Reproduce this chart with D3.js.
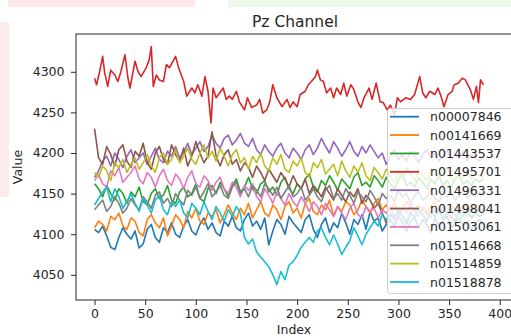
<!DOCTYPE html>
<html>
<head>
<meta charset="utf-8">
<script src="https://cdn.jsdelivr.net/npm/d3@7"></script>
<style>
  body { margin: 0; background: #fff; }
  svg { display: block; font-family: "DejaVu Sans", sans-serif; }
</style>
</head>
<body>
<svg id="chart" width="511" height="336"></svg>
<script>
// sample index (every 4th row of the recording)
const sampleIndex = d3.range(0, 385, 4);
// the red channel was read point by point at its peaks and dips
const redIndex = [0,2,5,8,10,13,16,20,23,26,30,33,35,40,43,46,51,54,56,58,
  61,64,68,71,74,80,83,88,91,96,99,102,106,109,112,115,117,120,127,130,
  133,136,140,143,148,151,155,160,163,166,170,173,176,180,185,190,193,196,200,203,
  208,211,214,218,220,223,226,229,233,236,239,243,246,249,253,256,260,263,266,271,
  274,278,282,285,289,292,296,299,302,307,312,316,321,324,327,331,336,339,342,345,
  349,353,355,359,363,366,371,374,377,379,381,384];

const seriesNames = ['n00007846', 'n00141669', 'n01443537', 'n01495701', 'n01496331',
  'n01498041', 'n01503061', 'n01514668', 'n01514859', 'n01518878'];

const n00007846 = [4106,4102,4110,4098,4084,4081,4096,4108,4100,4094,
  4104,4083,4088,4106,4112,4096,4090,4108,4102,4114,
  4100,4096,4110,4118,4104,4099,4112,4120,4106,4114,
  4102,4098,4116,4110,4122,4108,4104,4118,4126,4110,
  4116,4106,4120,4087,4104,4118,4112,4100,4122,4114,
  4108,4102,4118,4124,4106,4096,4112,4120,4102,4114,
  4108,4126,4114,4100,4118,4112,4124,4106,4128,4116,
  4120,4104,4112,4118,4110,4122,4114,4104,4116,4120,
  4108,4118,4112,4102,4120,4110,4116,4122,4108,4114,
  4120,4110,4116,4106,4114,4118,4112];
const n00141669 = [4108,4116,4112,4104,4122,4118,4126,4110,4106,4120,
  4116,4102,4098,4118,4124,4114,4108,4120,4098,4110,
  4124,4118,4108,4128,4120,4132,4116,4112,4126,4122,
  4130,4114,4124,4136,4126,4118,4132,4124,4138,4120,
  4130,4140,4126,4122,4136,4130,4118,4134,4140,4126,
  4132,4120,4138,4144,4128,4124,4136,4130,4142,4122,
  4134,4128,4140,4136,4124,4130,4142,4134,4126,4138,
  4144,4130,4136,4128,4138,4124,4132,4140,4134,4128,
  4136,4130,4124,4134,4140,4128,4132,4126,4136,4130,
  4134,4128,4138,4130,4126,4134,4130];
const n01443537 = [4162,4156,4146,4160,4150,4142,4156,4150,4138,4152,
  4146,4158,4140,4136,4150,4156,4144,4148,4160,4142,
  4138,4152,4158,4146,4150,4162,4144,4140,4156,4160,
  4150,4164,4156,4146,4160,4168,4152,4158,4170,4156,
  4150,4162,4166,4152,4158,4148,4164,4170,4156,4150,
  4162,4156,4168,4174,4158,4152,4166,4160,4172,4164,
  4154,4168,4162,4156,4170,4176,4160,4164,4158,4172,
  4166,4158,4170,4162,4156,4168,4174,4160,4164,4158,
  4170,4164,4156,4168,4162,4172,4160,4166,4158,4168,
  4172,4162,4166,4160,4168,4164,4168];
const n01495701 = [4292,4284,4300,4319,4299,4282,4302,4296,4288,4300,
  4321,4292,4280,4313,4300,4294,4305,4315,4331,4282,
  4296,4290,4288,4309,4305,4319,4305,4288,4270,4280,
  4274,4284,4270,4294,4276,4237,4280,4268,4280,4266,
  4270,4266,4276,4263,4253,4268,4256,4259,4266,4249,
  4253,4263,4284,4268,4257,4266,4256,4263,4257,4272,
  4276,4284,4288,4294,4302,4290,4288,4274,4280,4268,
  4280,4272,4286,4270,4284,4278,4263,4256,4268,4280,
  4266,4286,4263,4262,4253,4259,4247,4268,4263,4268,
  4266,4272,4294,4274,4268,4276,4272,4280,4270,4257,
  4272,4276,4284,4286,4292,4290,4278,4266,4282,4262,
  4290,4284];
const n01496331 = [4170,4178,4190,4196,4184,4200,4192,4182,4196,4204,
  4188,4194,4200,4186,4196,4206,4192,4188,4202,4196,
  4208,4194,4200,4212,4198,4206,4214,4202,4208,4222,
  4212,4206,4218,4222,4210,4216,4224,4212,4208,4218,
  4204,4198,4210,4202,4196,4206,4212,4200,4194,4206,
  4200,4192,4204,4210,4198,4206,4218,4208,4200,4214,
  4206,4196,4204,4214,4202,4196,4208,4200,4210,4202,
  4194,4200,4186,4196,4204,4192,4198,4190,4202,4196,
  4188,4198,4204,4194,4200,4190,4196,4204,4192,4198,
  4194,4202,4190,4198,4194,4190,4196];
const n01498041 = [4230,4194,4186,4208,4198,4184,4204,4210,4190,4182,
  4202,4196,4212,4188,4180,4200,4208,4192,4186,4210,
  4198,4190,4206,4184,4196,4214,4200,4188,4196,4226,
  4196,4184,4198,4204,4186,4192,4178,4188,4182,4170,
  4184,4176,4166,4180,4172,4164,4176,4168,4158,4172,
  4162,4156,4168,4150,4160,4154,4146,4158,4150,4142,
  4156,4148,4140,4152,4146,4156,4138,4148,4142,4132,
  4138,4126,4114,4124,4118,4130,4122,4112,4126,4120,
  4132,4124,4116,4128,4122,4130,4118,4126,4122,4116,
  4128,4122,4130,4120,4126,4122,4124];
const n01503061 = [4166,4174,4162,4158,4178,4172,4182,4164,4170,4176,
  4184,4168,4162,4176,4170,4158,4172,4180,4166,4160,
  4174,4168,4156,4170,4178,4162,4158,4172,4166,4154,
  4164,4170,4156,4150,4164,4158,4146,4160,4154,4162,
  4146,4140,4156,4148,4138,4152,4144,4136,4150,4140,
  4134,4146,4138,4128,4140,4134,4124,4138,4130,4122,
  4134,4126,4118,4132,4138,4124,4120,4134,4128,4132,
  4120,4130,4126,4134,4122,4118,4132,4126,4138,4128,
  4122,4134,4128,4120,4132,4124,4136,4126,4120,4130,
  4126,4134,4122,4130,4126,4132,4126];
const n01514668 = [4130,4136,4142,4128,4134,4146,4138,4126,4132,4144,
  4136,4130,4146,4140,4132,4148,4152,4138,4144,4134,
  4150,4142,4136,4154,4148,4158,4144,4152,4162,4146,
  4152,4160,4148,4144,4158,4164,4150,4156,4146,4160,
  4154,4146,4162,4156,4148,4158,4144,4152,4160,4146,
  4150,4158,4142,4148,4156,4146,4140,4154,4160,4144,
  4150,4142,4156,4148,4138,4152,4146,4140,4154,4146,
  4136,4150,4144,4148,4140,4154,4146,4150,4138,4148,
  4152,4142,4146,4154,4144,4140,4150,4146,4152,4142,
  4148,4154,4144,4150,4146,4152,4148];
const n01514859 = [4176,4170,4184,4178,4166,4188,4182,4192,4176,4186,
  4194,4180,4188,4198,4184,4176,4194,4200,4186,4192,
  4204,4188,4196,4206,4192,4186,4200,4210,4194,4202,
  4190,4206,4196,4184,4198,4204,4188,4194,4180,4196,
  4188,4200,4184,4178,4194,4186,4198,4180,4176,4190,
  4184,4194,4176,4170,4188,4182,4192,4174,4180,4186,
  4172,4190,4178,4170,4184,4176,4188,4172,4166,4182,
  4176,4168,4180,4172,4164,4178,4170,4182,4174,4166,
  4178,4172,4166,4176,4180,4168,4174,4182,4170,4166,
  4176,4170,4178,4168,4174,4172,4170];
const n01518878 = [4136,4144,4152,4158,4140,4156,4146,4132,4140,4150,
  4138,4128,4144,4136,4126,4142,4148,4130,4124,4140,
  4134,4142,4126,4120,4138,4132,4124,4140,4128,4118,
  4134,4126,4116,4130,4122,4134,4126,4096,4088,4094,
  4078,4072,4066,4060,4050,4038,4054,4044,4062,4066,
  4074,4084,4090,4096,4090,4104,4108,4096,4087,4099,
  4088,4075,4084,4092,4108,4098,4087,4100,4108,4116,
  4110,4124,4118,4126,4120,4130,4122,4116,4128,4120,
  4132,4124,4118,4128,4122,4130,4120,4126,4132,4124,
  4118,4128,4122,4130,4124,4128,4122];

const seriesValues = [n00007846, n00141669, n01443537, n01495701, n01496331,
  n01498041, n01503061, n01514668, n01514859, n01518878];
const seriesIndex = seriesNames.map((name) => name === 'n01495701' ? redIndex : sampleIndex);

const xTicks = [0, 50, 100, 150, 200, 250, 300, 350, 400];
const yTicks = [4050, 4100, 4150, 4200, 4250, 4300];

const colors = ['#1f77b4', '#ff7f0e', '#2ca02c', '#d62728', '#9467bd',
  '#8c564b', '#e377c2', '#7f7f7f', '#bcbd22', '#17becf'];

const svg = d3.select('#chart');
const plotLeft = 76, plotRight = 520, plotTop = 34, plotBottom = 300;
const textColor = '#262626';

// faint screenshot leftovers round the edges
svg.append('rect').attr('x', 8).attr('y', 0).attr('width', 187).attr('height', 7).attr('fill', '#fde7e9');
svg.append('rect').attr('x', 228).attr('y', 0).attr('width', 283).attr('height', 7).attr('fill', '#eef8e6');
svg.append('rect').attr('x', 0).attr('y', 22).attr('width', 9).attr('height', 175).attr('fill', '#fdeaeb');

const x = d3.scaleLinear().domain([-18.3, 420]).range([plotLeft, plotRight]);
const y = d3.scaleLinear().domain([4019, 4346.5]).range([plotBottom, plotTop]);

svg.append('defs').append('clipPath').attr('id', 'plot')
  .append('rect')
  .attr('x', plotLeft).attr('y', plotTop)
  .attr('width', plotRight - plotLeft).attr('height', plotBottom - plotTop);

svg.append('g')
  .attr('clip-path', 'url(#plot)')
  .selectAll('path')
  .data(seriesValues)
  .enter().append('path')
  .attr('d', (vals, k) => d3.line()
    .x((d, i) => x(seriesIndex[k][i]))
    .y((d) => y(d))(vals))
  .attr('fill', 'none')
  .attr('stroke', (d, i) => colors[i])
  .attr('stroke-width', 1.6)
  .attr('stroke-linejoin', 'round');

// axes
const xAxis = svg.append('g')
  .attr('transform', `translate(0,${plotBottom})`)
  .call(d3.axisBottom(x).tickValues(xTicks).tickSize(5).tickPadding(4));
const yAxis = svg.append('g')
  .attr('transform', `translate(${plotLeft},0)`)
  .call(d3.axisLeft(y).tickValues(yTicks).tickFormat(d3.format('d')).tickSize(5).tickPadding(6.5));

[xAxis, yAxis].forEach((g) => {
  g.select('.domain').remove();
  g.selectAll('line').attr('stroke', textColor).attr('stroke-width', 1);
  g.selectAll('text')
    .attr('fill', textColor)
    .style('font-size', '12.5px')
    .style('font-family', '"DejaVu Sans", sans-serif');
});

svg.append('rect')
  .attr('x', plotLeft).attr('y', plotTop)
  .attr('width', plotRight - plotLeft).attr('height', plotBottom - plotTop)
  .attr('fill', 'none')
  .attr('stroke', textColor)
  .attr('stroke-width', 1);

// title and labels
svg.append('text')
  .attr('x', 295).attr('y', 27)
  .attr('text-anchor', 'middle')
  .attr('fill', textColor)
  .style('font-size', '15.5px')
  .text('Pz Channel');

svg.append('text')
  .attr('x', 294).attr('y', 334)
  .attr('text-anchor', 'middle')
  .attr('fill', textColor)
  .style('font-size', '12.5px')
  .text('Index');

svg.append('text')
  .attr('transform', 'translate(17,167) rotate(-90)')
  .attr('text-anchor', 'middle')
  .attr('dominant-baseline', 'central')
  .attr('fill', textColor)
  .style('font-size', '12.5px')
  .text('Value');

// legend
const legend = svg.append('g');
legend.append('rect')
  .attr('x', 387.5).attr('y', 108.5)
  .attr('width', 140).attr('height', 185)
  .attr('rx', 3)
  .attr('fill', '#fff').attr('fill-opacity', 0.8)
  .attr('stroke', '#cccccc').attr('stroke-width', 1);

const entry = legend.selectAll('g.entry')
  .data(seriesNames)
  .enter().append('g')
  .attr('class', 'entry')
  .attr('transform', (d, i) => `translate(0,${116.7 + i * 18.37})`);
entry.append('line')
  .attr('x1', 390).attr('x2', 419)
  .attr('stroke', (d, i) => colors[i])
  .attr('stroke-width', 1.8);
entry.append('text')
  .attr('x', 430)
  .attr('dominant-baseline', 'central')
  .attr('fill', textColor)
  .style('font-size', '12.5px')
  .text((d) => d);
</script>
</body>
</html>
